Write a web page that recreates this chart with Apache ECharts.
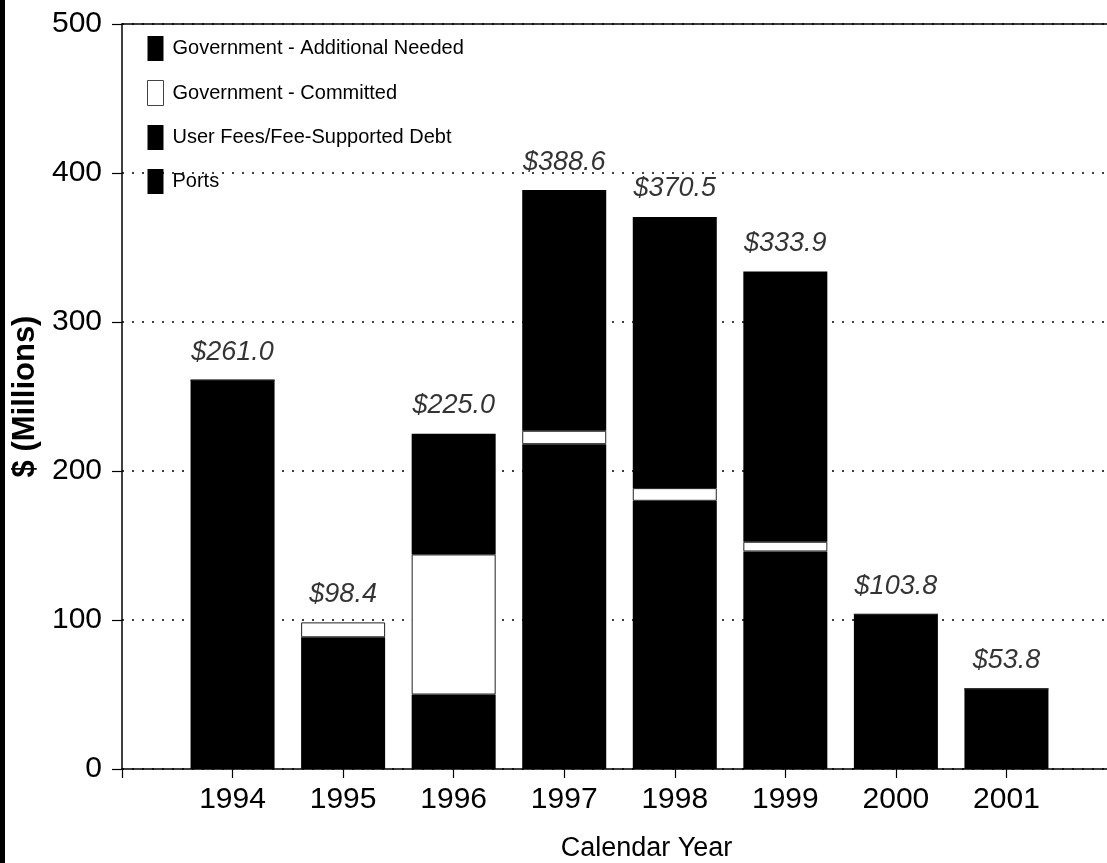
<!DOCTYPE html>
<html>
<head>
<meta charset="utf-8">
<style>
  html, body { margin: 0; padding: 0; background: #fff; overflow: hidden; }
  #chart { width: 1107px; height: 863px; }
</style>
<script src="https://cdn.jsdelivr.net/npm/echarts@6/dist/echarts.min.js"></script>
</head>
<body>
<div id="chart"></div>
<script>
// Funding by calendar year, $ millions
const years = ['1994', '1995', '1996', '1997', '1998', '1999', '2000', '2001'];

// Ports and user-fee funding share the same black fill; the combined amount
// for each year is carried in userFees.
const ports      = [0, 0, 0, 0, 0, 0, 0, 0];
const userFees   = [261.0, 88.4, 50.0, 218.0, 180.0, 146.0, 103.8, 53.8];
const committed  = [0, 10.0, 94.0, 9.0, 8.5, 6.5, 0, 0];
const additional = [0, 0, 81.0, 161.6, 182.0, 181.4, 0, 0];
const totals     = [261.0, 98.4, 225.0, 388.6, 370.5, 333.9, 103.8, 53.8];

const yTicks = [0, 100, 200, 300, 400, 500];

// One empty slot on each side so the years sit one step in from the axis;
// the last slot falls just past the right edge of the canvas.
const categories = [''].concat(years, ['']);
const pad = arr => ['-'].concat(arr, ['-']);

const FONT = '"Liberation Sans", Arial, Helvetica, sans-serif';
const BAR_W = 84;

const chart = echarts.init(document.getElementById('chart'), null, { renderer: 'canvas' });

const blackBar = (name, data) => ({
  name, type: 'bar', stack: 'total', data: pad(data), barWidth: BAR_W,
  itemStyle: { color: '#000' }, emphasis: { disabled: true }
});

chart.setOption({
  animation: false,
  backgroundColor: '#fff',
  textStyle: { fontFamily: FONT, color: '#000' },
  grid: { left: 122, right: -10, top: 24, bottom: 94, containLabel: false, outerBoundsMode: 'none' },
  legend: {
    orient: 'vertical', left: 142, top: 31,
    itemWidth: 16, itemHeight: 25, itemGap: 19,
    selectedMode: false,
    textStyle: { fontFamily: FONT, fontSize: 20, color: '#000', padding: [0, 0, 0, 4] },
    data: [
      { name: 'Government - Additional Needed', icon: 'rect', itemStyle: { color: '#000' } },
      { name: 'Government - Committed', icon: 'rect', itemStyle: { color: '#fff', borderColor: '#444', borderWidth: 1 } },
      { name: 'User Fees/Fee-Supported Debt', icon: 'rect', itemStyle: { color: '#000' } },
      { name: 'Ports', icon: 'rect', itemStyle: { color: '#000' } }
    ]
  },
  xAxis: [
    {
      type: 'category', data: categories, boundaryGap: false, position: 'bottom',
      name: 'Calendar Year', nameLocation: 'middle', nameGap: 66,
      nameTextStyle: { fontFamily: FONT, fontSize: 27, color: '#000', padding: [0, 0, 0, 54] },
      axisLine: { show: true, lineStyle: { color: '#000', width: 1.5 } },
      axisTick: { show: true, length: 9, lineStyle: { color: '#000', width: 1.2 } },
      axisLabel: { fontFamily: FONT, fontSize: 30, color: '#000', margin: 16 },
      splitLine: { show: false }
    },
    {
      // closing line along the top of the plot
      type: 'category', data: categories, boundaryGap: false, position: 'top',
      axisLine: { show: true, lineStyle: { color: '#000', width: 1.5 } },
      axisTick: { show: false }, axisLabel: { show: false }, splitLine: { show: false }
    }
  ],
  yAxis: {
    type: 'value', min: yTicks[0], max: yTicks[yTicks.length - 1], interval: 100,
    name: '$ (Millions)', nameLocation: 'middle', nameGap: 80,
    nameTextStyle: { fontFamily: FONT, fontSize: 31, fontWeight: 'bold', color: '#000' },
    axisLine: { show: true, lineStyle: { color: '#000', width: 1.5 } },
    axisTick: { show: true, length: 10, lineStyle: { color: '#000', width: 1.2 } },
    axisLabel: {
      fontFamily: FONT, fontSize: 30, color: '#000', margin: 20,
      formatter: v => (yTicks.indexOf(v) >= 0 ? String(v) : '')
    },
    splitLine: { show: true, lineStyle: { color: '#000', width: 1.5, type: [2, 8] } }
  },
  series: [
    blackBar('Ports', ports),
    blackBar('User Fees/Fee-Supported Debt', userFees),
    {
      name: 'Government - Committed', type: 'bar', stack: 'total', data: pad(committed), barWidth: BAR_W,
      itemStyle: { color: '#fff', borderColor: '#222', borderWidth: 1 }, emphasis: { disabled: true }
    },
    blackBar('Government - Additional Needed', additional),
    {
      // year totals written above each stack
      name: 'Total', type: 'scatter', data: pad(totals), symbol: 'rect', symbolSize: 1,
      itemStyle: { color: 'rgba(0,0,0,0)' }, silent: true, z: 10,
      label: {
        show: true, position: 'top', distance: 14,
        fontFamily: FONT, fontSize: 27, fontStyle: 'italic', color: '#000',
        formatter: p => '$' + Number(p.value).toFixed(1)
      }
    }
  ],
  graphic: [
    { type: 'rect', left: 0, top: 0, shape: { width: 5, height: 863 }, style: { fill: '#000' }, silent: true }
  ]
});
</script>
</body>
</html>
